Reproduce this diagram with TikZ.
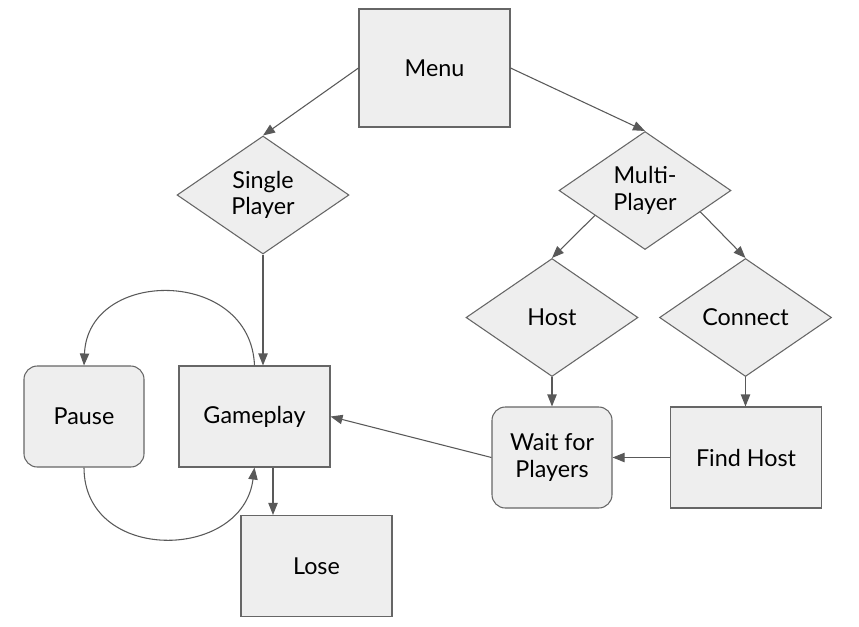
\documentclass[tikz,border=0pt]{standalone}
\usepackage{fontspec}
\setmainfont{Lato}
\usetikzlibrary{shapes.geometric,arrows.meta,calc}
\definecolor{boxfill}{HTML}{EEEEEE}
\definecolor{boxline}{HTML}{666666}
\definecolor{arrline}{HTML}{595959}
\begin{document}
\begin{tikzpicture}[x=0.75pt,y=-0.75pt,
  every node/.style={font=\fontsize{17.5}{20}\selectfont, align=center, text=black},
  sq/.style={draw=boxline, fill=boxfill, line width=0.8pt, rectangle, minimum width=151*0.75pt, minimum height=101*0.75pt, inner sep=0pt},
  rnd/.style={draw=boxline, fill=boxfill, line width=0.8pt, rectangle, rounded corners=10pt, minimum width=120*0.75pt, minimum height=101*0.75pt, inner sep=0pt},
  dia/.style={draw=boxline, fill=boxfill, line width=0.8pt, diamond, minimum width=172*0.75pt, minimum height=118*0.75pt, inner sep=0pt},
  arr/.style={draw=arrline, line width=0.8pt, -{Triangle[length=9pt,width=7pt]}}]
\useasboundingbox (0,0) rectangle (859,626);
\node[sq, minimum height=118*0.75pt] (menu) at (434.5,68) {Menu};
\node[dia] (single) at (263,195) {Single\\Player};
\node[dia] (multi) at (645,190.5) {Multi-\\Player};
\node[dia] (host) at (552,317.5) {Host};
\node[dia] (conn) at (745.5,317.5) {Connect};
\node[rnd] (wait) at (552,457.5) {Wait for\\Players};
\node[sq] (find) at (746,457.5) {Find Host};
\node[sq] (game) at (254.5,416.5) {Gameplay};
\node[rnd] (pause) at (84,416.5) {Pause};
\node[sq] (lose) at (316.5,566) {Lose};

\draw[arr] (menu.west) -- (single.north);
\draw[arr] (menu.east) -- (multi.north);
\draw[arr] (single.south) -- (single.south |- game.north);
\draw[arr] ($(multi.west)!0.42!(multi.south)$) -- (host.north);
\draw[arr] ($(multi.east)!0.36!(multi.south)$) -- (conn.north);
\draw[arr] (host.south) -- (wait.north);
\draw[arr] (conn.south) -- (conn.south |- find.north);
\draw[arr] (find.west) -- (wait.east);
\draw[arr] (wait.west) -- (game.east);
\draw[arr] ([xshift=18.5*0.75pt]game.south) -- ([xshift=18.5*0.75pt]game.south |- lose.north);
\draw[arr] (game.north) .. controls ($(game.north)+(-4,-98)$) and ($(pause.north)+(4,-98)$) .. (pause.north);
\draw[arr] (pause.south) .. controls ($(pause.south)+(0,96)$) and ($(game.south)+(-12,94)$) .. (game.south);
\end{tikzpicture}
\end{document}
